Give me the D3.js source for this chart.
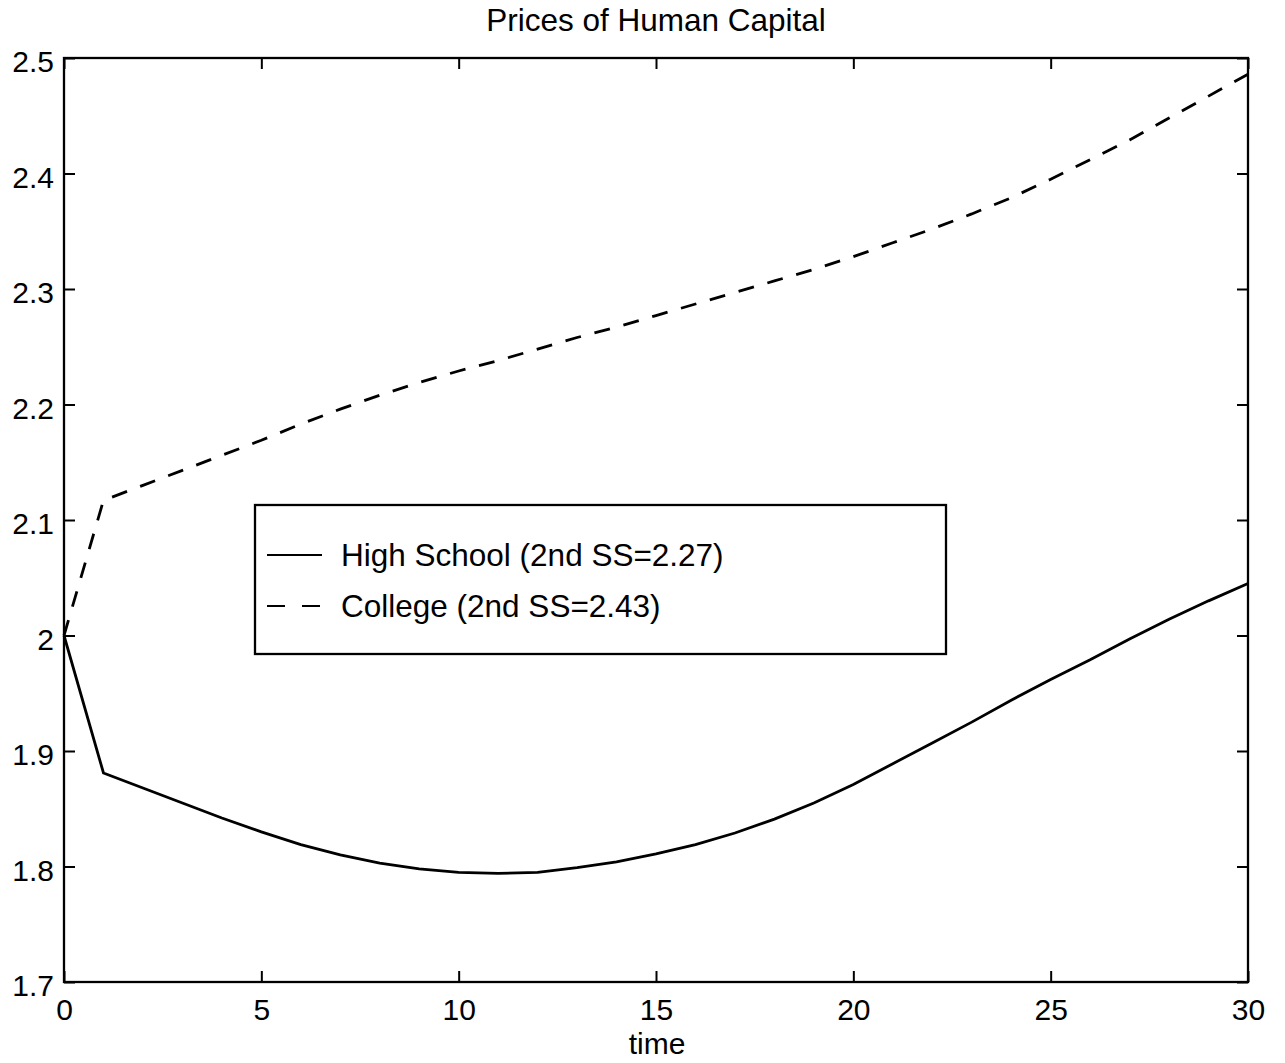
<!DOCTYPE html>
<html>
<head>
<meta charset="utf-8">
<script src="https://cdn.jsdelivr.net/npm/d3@7"></script>
<style>
  html, body { margin: 0; padding: 0; background: #fff; }
  svg { display: block; font-family: "Liberation Sans", Arial, Helvetica, sans-serif; }
</style>
</head>
<body>
<svg id="chart" width="1285" height="1063"></svg>
<script>
// ---- Data ----
const time = d3.range(0, 31);
const highSchool = [2.000, 1.881, 1.868, 1.855, 1.842, 1.830, 1.819, 1.810, 1.803, 1.798,
                    1.795, 1.794, 1.795, 1.799, 1.804, 1.811, 1.819, 1.829, 1.841, 1.855,
                    1.871, 1.889, 1.907, 1.925, 1.944, 1.962, 1.979, 1.997, 2.014, 2.030, 2.045];
const college    = [2.000, 2.117, 2.130, 2.143, 2.156, 2.169, 2.183, 2.196, 2.208, 2.219,
                    2.229, 2.238, 2.248, 2.258, 2.267, 2.277, 2.287, 2.297, 2.307, 2.317,
                    2.328, 2.340, 2.352, 2.365, 2.379, 2.395, 2.412, 2.429, 2.448, 2.467, 2.486];
const xTicks = [0, 5, 10, 15, 20, 25, 30];
const yTicks = [1.7, 1.8, 1.9, 2.0, 2.1, 2.2, 2.3, 2.4, 2.5];
const yTickLabels = ["1.7", "1.8", "1.9", "2", "2.1", "2.2", "2.3", "2.4", "2.5"];
const seriesNames = ["High School (2nd SS=2.27)", "College (2nd SS=2.43)"];
const titleText = "Prices of Human Capital";
const xLabelText = "time";

// ---- Layout ----
const svg = d3.select("#chart");
const L = 64, R = 1248, T = 58, B = 982;
const x = d3.scaleLinear().domain([0, 30]).range([L, R]);
const y = d3.scaleLinear().domain([1.7, 2.5]).range([B, T]);
const fontSize = 30;
const textSize = 31.5;
const tickLen = 11;

// Frame
svg.append("rect").attr("x", L).attr("y", T).attr("width", R - L).attr("height", B - T)
  .attr("fill", "none").attr("stroke", "#000").attr("stroke-width", 2.3);

// Axes (inward ticks)
const axL = d3.axisLeft(y).tickValues(yTicks).tickSize(-tickLen).tickPadding(10)
  .tickFormat((d, i) => yTickLabels[i]);
const axR = d3.axisRight(y).tickValues(yTicks).tickSize(-tickLen).tickFormat("");
const axB = d3.axisBottom(x).tickValues(xTicks).tickSize(-tickLen).tickPadding(20).tickFormat(d3.format("d"));
const axT = d3.axisTop(x).tickValues(xTicks).tickSize(-tickLen).tickFormat("");

function style(g) {
  g.select(".domain").remove();
  g.selectAll(".tick line").attr("stroke", "#000").attr("stroke-width", 2);
  g.selectAll(".tick text").attr("fill", "#000").style("font-size", fontSize + "px")
    .style("font-family", "'Liberation Sans', Arial, sans-serif");
}
svg.append("g").attr("transform", `translate(${L},0)`).call(axL).call(style)
  .selectAll(".tick text").attr("dy", "0.45em");
svg.append("g").attr("transform", `translate(${R},0)`).call(axR).call(style);
svg.append("g").attr("transform", `translate(0,${B})`).call(axB).call(style)
  .selectAll(".tick text").attr("dy", "0.6em");
svg.append("g").attr("transform", `translate(0,${T})`).call(axT).call(style);

// Lines
const line = d3.line().x((d, i) => x(time[i])).y(d => y(d));
svg.append("path").datum(highSchool).attr("d", line)
  .attr("fill", "none").attr("stroke", "#000").attr("stroke-width", 2.8);
svg.append("path").datum(college).attr("d", line)
  .attr("fill", "none").attr("stroke", "#000").attr("stroke-width", 2.8)
  .attr("stroke-dasharray", "16,14");

// Title and x label
svg.append("text").attr("x", (L + R) / 2).attr("y", 31).attr("text-anchor", "middle")
  .style("font-size", textSize + "px").text(titleText);
svg.append("text").attr("x", (L + R) / 2 + 1).attr("y", 1054).attr("text-anchor", "middle")
  .style("font-size", fontSize + "px").text(xLabelText);

// Legend
const lg = svg.append("g");
lg.append("rect").attr("x", 255).attr("y", 505).attr("width", 691).attr("height", 149)
  .attr("fill", "#fff").attr("stroke", "#000").attr("stroke-width", 2.3);
const rows = [555, 606];
const dashes = [null, "18,17"];
seriesNames.forEach((name, i) => {
  lg.append("line").attr("x1", 267).attr("x2", 322).attr("y1", rows[i]).attr("y2", rows[i])
    .attr("stroke", "#000").attr("stroke-width", 2.2)
    .attr("stroke-dasharray", dashes[i]);
  lg.append("text").attr("x", 341).attr("y", rows[i] + 11)
    .style("font-size", textSize + "px").text(name);
});
</script>
</body>
</html>
